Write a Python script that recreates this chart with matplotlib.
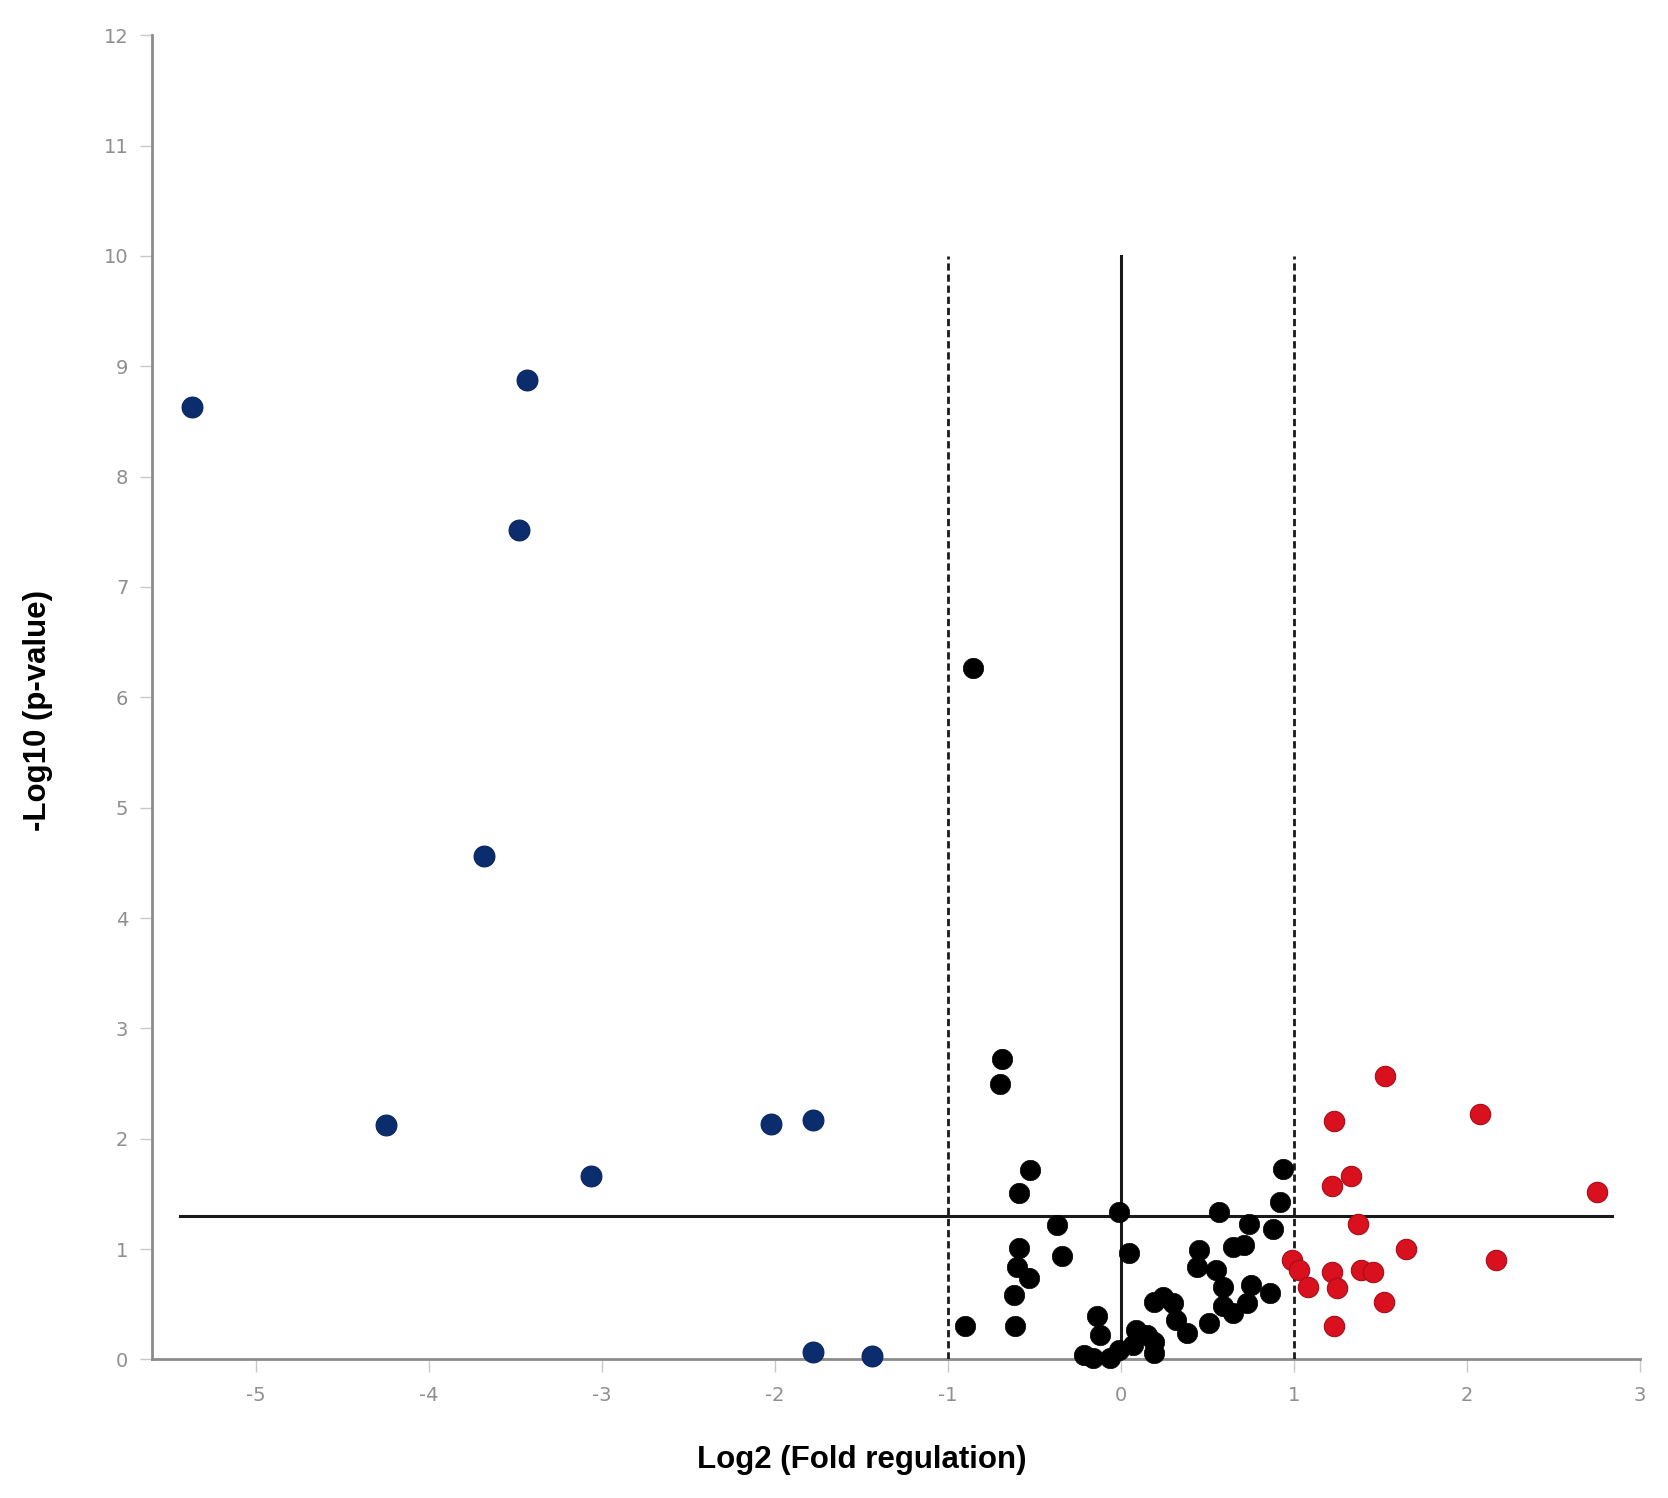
import matplotlib
matplotlib.use('Agg')
import matplotlib.pyplot as plt

plt.rcParams['axes.unicode_minus'] = False

# =========================
# DATA
# =========================
down_x = [-5.37, -3.43, -3.48, -3.68, -4.25, -3.06, -2.02, -1.78, -1.78, -1.44]
down_y = [8.63, 8.88, 7.52, 4.56, 2.12, 1.66, 2.13, 2.17, 0.07, 0.03]

ns_x = [-0.855, -0.684, -0.70, -0.526, -0.59, -0.01, -0.37, -0.34, -0.59, -0.60,
        -0.53, -0.62, -0.90, -0.61, 0.05, 0.57, 0.74, 0.935, 0.92, 0.88,
        0.65, 0.71, 0.45, 0.44, 0.55, 0.59, 0.75, 0.86, 0.59, 0.65,
        0.73, 0.51, 0.19, 0.245, 0.30, 0.32, 0.38, -0.14, -0.12, -0.21,
        -0.06, -0.01, 0.09, 0.15, 0.19, 0.07, 0.19, -0.16]
ns_y = [6.27, 2.72, 2.50, 1.72, 1.51, 1.34, 1.22, 0.94, 1.01, 0.84,
        0.74, 0.58, 0.30, 0.30, 0.96, 1.34, 1.23, 1.73, 1.43, 1.18,
        1.02, 1.04, 0.99, 0.84, 0.81, 0.66, 0.67, 0.60, 0.48, 0.42,
        0.51, 0.33, 0.52, 0.57, 0.51, 0.36, 0.24, 0.39, 0.22, 0.04,
        0.01, 0.09, 0.27, 0.22, 0.16, 0.13, 0.06, 0.01]

up_x = [1.53, 1.23, 2.075, 1.33, 1.22, 2.754, 1.37, 1.65, 2.17, 0.99,
        1.03, 1.08, 1.22, 1.25, 1.39, 1.46, 1.52, 1.23]
up_y = [2.57, 2.16, 2.22, 1.66, 1.57, 1.52, 1.23, 1.00, 0.90, 0.90,
        0.81, 0.66, 0.79, 0.65, 0.81, 0.79, 0.52, 0.30]

x_ticks = [-5, -4, -3, -2, -1, 0, 1, 2, 3]
y_ticks = list(range(0, 13))

P_CUT = 1.301   # -log10(0.05)
FC_CUT = 1.0

# =========================
# PLOT
# =========================
fig = plt.figure(figsize=(16.68, 14.98), dpi=100)
ax = fig.add_axes([0.0911, 0.0925, 0.892, 0.884])

ax.scatter(down_x, down_y, s=225, color='#0b2d6e', edgecolor='#0a2458',
           linewidth=0.8, zorder=5, clip_on=False)
ax.scatter(ns_x, ns_y, s=215, color='black', edgecolor='black',
           linewidth=0.5, zorder=5, clip_on=False)
ax.scatter(up_x, up_y, s=215, color='#d9101e', edgecolor='#a80d18',
           linewidth=0.8, zorder=5, clip_on=False)

# threshold lines
ax.plot([-5.44, 2.84], [P_CUT, P_CUT], color='#1a1a1a', lw=2.2, zorder=3)
ax.plot([0, 0], [0, 10], color='#1a1a1a', lw=2.2, zorder=3)
for xv in (-FC_CUT, FC_CUT):
    ax.plot([xv, xv], [0, 10], color='#1a1a1a', lw=2.0,
            linestyle=(0, (2.6, 1.4)), zorder=3)

ax.set_xlim(-5.6, 3.0)
ax.set_ylim(0, 12)
ax.set_xticks(x_ticks)
ax.set_yticks(y_ticks)

for side in ('top', 'right'):
    ax.spines[side].set_visible(False)
for side in ('left', 'bottom'):
    ax.spines[side].set_color('#8c8c8c')
    ax.spines[side].set_linewidth(2.0)

ax.tick_params(axis='both', direction='out', length=9, width=1,
               color='#c8c8c8', labelcolor='#8f8f8f', labelsize=14)
ax.tick_params(axis='x', pad=10)
ax.tick_params(axis='y', pad=8)

fig.text(0.5168, 0.0254, 'Log2 (Fold regulation)', fontsize=22.5,
         fontweight='bold', family='Liberation Sans', ha='center', va='center')
fig.text(0.0225, 0.5254, '-Log10 (p-value)', fontsize=22.5, rotation=90,
         fontweight='bold', family='Liberation Sans', ha='center', va='center')

fig.savefig('out.png', dpi=100, facecolor='white')
